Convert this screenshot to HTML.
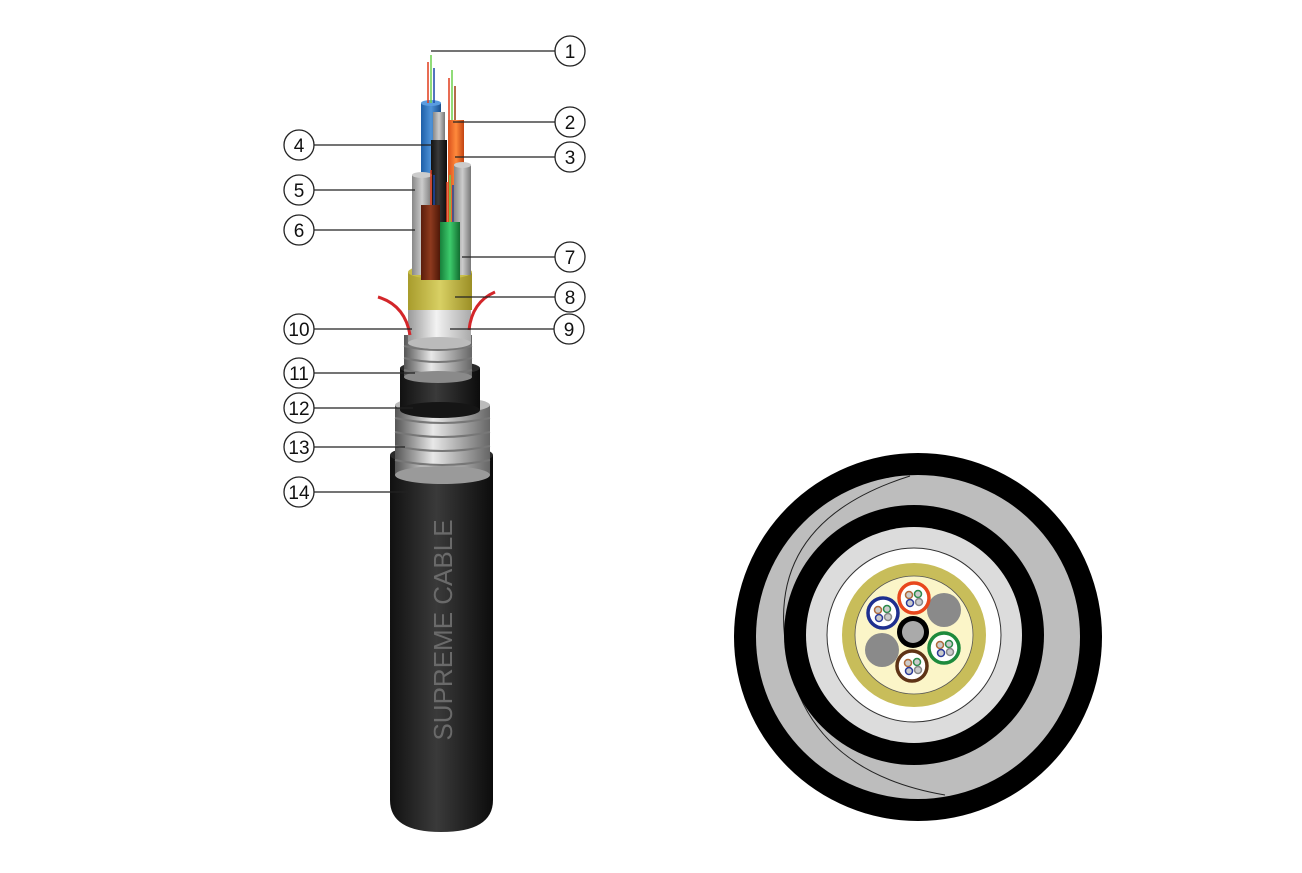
<!DOCTYPE html>
<html><head><meta charset="utf-8"><style>
html,body{margin:0;padding:0;background:#fff;}
svg{display:block;font-family:"Liberation Sans",sans-serif;}
</style></head><body>
<svg width="1302" height="873" viewBox="0 0 1302 873">
<defs>
<linearGradient id="blk" x1="0" x2="1"><stop offset="0" stop-color="#111"/><stop offset=".45" stop-color="#3a3a3a"/><stop offset="1" stop-color="#0c0c0c"/></linearGradient>
<linearGradient id="met" x1="0" x2="1"><stop offset="0" stop-color="#555"/><stop offset=".4" stop-color="#e8e8e8"/><stop offset="1" stop-color="#666"/></linearGradient>
<linearGradient id="wht" x1="0" x2="1"><stop offset="0" stop-color="#999"/><stop offset=".45" stop-color="#f2f2f2"/><stop offset="1" stop-color="#aaa"/></linearGradient>
<linearGradient id="gry" x1="0" x2="1"><stop offset="0" stop-color="#888"/><stop offset=".5" stop-color="#ccc"/><stop offset="1" stop-color="#777"/></linearGradient>
<linearGradient id="blu" x1="0" x2="1"><stop offset="0" stop-color="#1d5fa8"/><stop offset=".5" stop-color="#4f93d8"/><stop offset="1" stop-color="#1a4f8e"/></linearGradient>
<linearGradient id="org" x1="0" x2="1"><stop offset="0" stop-color="#d9501c"/><stop offset=".5" stop-color="#ff8a3c"/><stop offset="1" stop-color="#c24412"/></linearGradient>
<linearGradient id="brn" x1="0" x2="1"><stop offset="0" stop-color="#5a1d0c"/><stop offset=".5" stop-color="#8e3a1e"/><stop offset="1" stop-color="#4e1808"/></linearGradient>
<linearGradient id="grn" x1="0" x2="1"><stop offset="0" stop-color="#16803a"/><stop offset=".5" stop-color="#3dcb6c"/><stop offset="1" stop-color="#126d30"/></linearGradient>
<linearGradient id="yel" x1="0" x2="1"><stop offset="0" stop-color="#a89c2c"/><stop offset=".5" stop-color="#d8d064"/><stop offset="1" stop-color="#9b8f25"/></linearGradient>
</defs>

<path d="M390 455 L493 455 L493 800 Q493 832 441 832 Q390 832 390 800 Z" fill="url(#blk)"/>
<ellipse cx="441.5" cy="455" rx="51.5" ry="10" fill="#2a2a2a"/>
<text transform="translate(452,630) rotate(-90)" text-anchor="middle" font-size="26" fill="#6a6a6a">SUPREME CABLE</text>
<rect x="395" y="405" width="95" height="70" fill="url(#met)"/>
<g stroke="#777" stroke-width="2" fill="none">
<path d="M395 418 Q442 428 490 418"/><path d="M395 432 Q442 442 490 432"/><path d="M395 446 Q442 456 490 446"/><path d="M395 460 Q442 470 490 460"/></g>
<ellipse cx="442.5" cy="475" rx="47.5" ry="9" fill="#9a9a9a"/>
<ellipse cx="442.5" cy="405" rx="47.5" ry="8" fill="#bbb"/>
<rect x="400" y="368" width="80" height="42" fill="url(#blk)"/>
<ellipse cx="440" cy="410" rx="40" ry="8" fill="#151515"/>
<ellipse cx="440" cy="368" rx="40" ry="7" fill="#2a2a2a"/>
<rect x="404" y="335" width="68" height="42" fill="url(#met)"/>
<g stroke="#777" stroke-width="2" fill="none">
<path d="M404 346 Q438 354 472 346"/><path d="M404 358 Q438 366 472 358"/><path d="M404 370 Q438 378 472 370"/></g>
<ellipse cx="438" cy="377" rx="34" ry="6" fill="#8a8a8a"/>
<rect x="408" y="298" width="63" height="45" fill="url(#wht)"/>
<ellipse cx="439.5" cy="343" rx="31.5" ry="6" fill="#bbb"/>
<path d="M378 297 Q405 305 410 335" stroke="#d3262a" stroke-width="3" fill="none"/>
<path d="M495 292 Q472 302 469 330" stroke="#d3262a" stroke-width="3" fill="none"/>
<rect x="408" y="272" width="64" height="38" fill="url(#yel)"/>
<ellipse cx="440" cy="272" rx="32" ry="7" fill="#c8be4a"/>
<rect x="421" y="103" width="20" height="120" fill="url(#blu)"/>
<ellipse cx="431" cy="103" rx="10" ry="3" fill="#5a9ce0"/>
<rect x="448" y="120" width="16" height="110" fill="url(#org)"/>
<rect x="433" y="112" width="12" height="30" fill="url(#gry)"/>
<rect x="431" y="140" width="16" height="110" fill="url(#blk)"/>
<rect x="412" y="175" width="20" height="100" fill="url(#gry)"/>
<ellipse cx="422" cy="175" rx="10" ry="3" fill="#ccc"/>
<rect x="454" y="165" width="17" height="110" fill="url(#gry)"/>
<ellipse cx="462.5" cy="165" rx="8.5" ry="3" fill="#ccc"/>
<rect x="421" y="205" width="19" height="75" fill="url(#brn)"/>
<rect x="440" y="222" width="20" height="58" fill="url(#grn)"/>
<g stroke-width="1.5">
<line x1="431" y1="55" x2="431" y2="103" stroke="#6bd04a"/><line x1="428" y1="62" x2="428" y2="103" stroke="#e03a1a"/><line x1="434" y1="68" x2="434" y2="103" stroke="#1a46a8"/>
<line x1="452" y1="70" x2="452" y2="120" stroke="#6bd04a"/><line x1="449" y1="78" x2="449" y2="120" stroke="#e03a1a"/><line x1="455" y1="86" x2="455" y2="120" stroke="#9a3a10"/>
<line x1="431" y1="170" x2="431" y2="205" stroke="#e03a1a"/><line x1="434" y1="175" x2="434" y2="205" stroke="#1a46a8"/>
<line x1="450" y1="175" x2="450" y2="222" stroke="#6bd04a"/><line x1="447" y1="182" x2="447" y2="222" stroke="#e03a1a"/><line x1="453" y1="185" x2="453" y2="222" stroke="#1a46a8"/>
</g>

<g stroke="#222" stroke-width="1.2">
<line x1="431" y1="51" x2="555" y2="51"/><line x1="453" y1="122" x2="555" y2="122"/><line x1="455" y1="157" x2="555" y2="157"/>
<line x1="462" y1="257" x2="555" y2="257"/><line x1="455" y1="297" x2="555" y2="297"/><line x1="450" y1="329" x2="554" y2="329"/>
<line x1="314" y1="145" x2="433" y2="145"/><line x1="314" y1="190" x2="415" y2="190"/><line x1="314" y1="230" x2="415" y2="230"/>
<line x1="314" y1="329" x2="412" y2="329"/><line x1="314" y1="373" x2="415" y2="373"/><line x1="314" y1="408" x2="413" y2="408"/>
<line x1="314" y1="447" x2="405" y2="447"/><line x1="314" y1="492" x2="410" y2="492"/>
</g>
<g fill="#fff" stroke="#222" stroke-width="1.3">
<circle cx="570" cy="51" r="15"/><circle cx="570" cy="122" r="15"/><circle cx="570" cy="157" r="15"/><circle cx="570" cy="257" r="15"/><circle cx="570" cy="297" r="15"/><circle cx="569" cy="329" r="15"/>
<circle cx="299" cy="145" r="15"/><circle cx="299" cy="190" r="15"/><circle cx="299" cy="230" r="15"/><circle cx="299" cy="329" r="15"/><circle cx="299" cy="373" r="15"/><circle cx="299" cy="408" r="15"/><circle cx="299" cy="447" r="15"/><circle cx="299" cy="492" r="15"/>
</g>
<g font-size="19" text-anchor="middle" fill="#111">
<text x="570" y="58">1</text><text x="570" y="129">2</text><text x="570" y="164">3</text><text x="570" y="264">7</text><text x="570" y="304">8</text><text x="569" y="336">9</text>
<text x="299" y="152">4</text><text x="299" y="197">5</text><text x="299" y="237">6</text><text x="299" y="336">10</text><text x="299" y="380">11</text><text x="299" y="415">12</text><text x="299" y="454">13</text><text x="299" y="499">14</text>
</g>

<circle cx="918" cy="637" r="184" fill="#000"/>
<circle cx="918" cy="637" r="162" fill="#bdbdbd"/>
<path d="M910 476 Q770 520 785 640 Q800 770 945 795" stroke="#222" stroke-width="1" fill="none"/>
<circle cx="914" cy="635" r="130" fill="#000"/>
<circle cx="914" cy="635" r="108" fill="#dcdcdc"/>
<circle cx="914" cy="635" r="87" fill="#fff" stroke="#333" stroke-width="1"/>
<circle cx="914" cy="635" r="72" fill="#c8bd5a"/>
<circle cx="914" cy="635" r="59" fill="#fbf5c8" stroke="#555" stroke-width="0.8"/>
<circle cx="913" cy="632" r="16" fill="#000"/>
<circle cx="913" cy="632" r="11" fill="#aaa"/>
<circle cx="944" cy="610" r="17" fill="#8a8a8a"/>
<circle cx="882" cy="650" r="17" fill="#8a8a8a"/>
<g fill="#fff" stroke-width="3.5">
<circle cx="914" cy="598" r="15" stroke="#e8471c"/>
<circle cx="883" cy="613" r="15" stroke="#1e2f8f"/>
<circle cx="944" cy="648" r="15" stroke="#1d8a3c"/>
<circle cx="912" cy="666" r="15" stroke="#5e3316"/>
</g>
<g fill="#ccc" stroke-width="1.5">
<circle cx="909" cy="595" r="3.5" stroke="#b06a3a"/><circle cx="918" cy="594" r="3.5" stroke="#2a8a4a"/><circle cx="910" cy="603" r="3.5" stroke="#2a3a9a"/><circle cx="919" cy="602" r="3.5" stroke="#888"/>
<circle cx="878" cy="610" r="3.5" stroke="#b06a3a"/><circle cx="887" cy="609" r="3.5" stroke="#2a8a4a"/><circle cx="879" cy="618" r="3.5" stroke="#2a3a9a"/><circle cx="888" cy="617" r="3.5" stroke="#888"/>
<circle cx="940" cy="645" r="3.5" stroke="#b06a3a"/><circle cx="949" cy="644" r="3.5" stroke="#2a8a4a"/><circle cx="941" cy="653" r="3.5" stroke="#2a3a9a"/><circle cx="950" cy="652" r="3.5" stroke="#888"/>
<circle cx="908" cy="663" r="3.5" stroke="#b06a3a"/><circle cx="917" cy="662" r="3.5" stroke="#2a8a4a"/><circle cx="909" cy="671" r="3.5" stroke="#2a3a9a"/><circle cx="918" cy="670" r="3.5" stroke="#888"/>
</g>
</svg>
</body></html>
